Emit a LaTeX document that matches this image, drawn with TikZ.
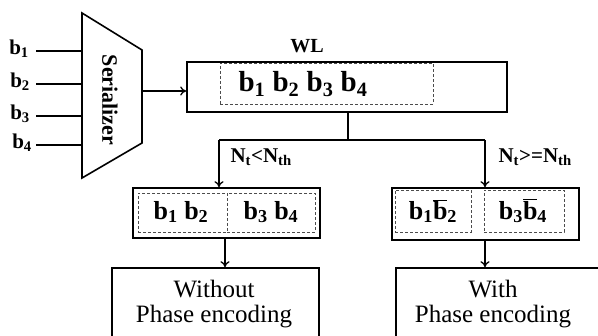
\documentclass[tikz,border=0pt]{standalone}
\usepackage{fontspec}
\setmainfont{Liberation Serif}
\usetikzlibrary{arrows.meta}
\newcommand\bb[1]{b\textsubscript{#1}}
\newcommand\bbar[1]{$\overline{\mbox{b}}$\textsubscript{#1}}
\tikzset{
  box/.style={draw, line width=1.6pt, rectangle, inner sep=0pt},
  dbox/.style={draw=black!70, dashed, dash pattern=on 3pt off 2pt, line width=0.6pt, rectangle, inner sep=0pt},
  wire/.style={line width=1.4pt},
  arr/.style={line width=1.3pt, -{To[length=6pt,width=9pt]}},
  bold/.style={font=\bfseries\fontsize{#1}{#1}\selectfont},
}
\begin{document}
\begin{tikzpicture}[x=1pt,y=-1pt]
\useasboundingbox (0,0) rectangle (598,336);
\clip (0,0) rectangle (598,336);
% serializer
\coordinate (s1) at (82,13);
\coordinate (s2) at (142,50);
\coordinate (s3) at (142,143);
\coordinate (s4) at (82,178);
\draw[line width=1.6pt, line join=miter] (s1) -- (s2) -- (s3) -- (s4) -- cycle;
\node[bold=22, rotate=-90] (ser) at (110,100) {Serializer};
% inputs
\foreach \i/\y/\x in {1/51/29,2/84/30,3/116/30,4/145/32}{
  \node[bold=21, anchor=east, inner sep=0pt] (in\i) at (\x,\y-2) {\bb{\i}};
  \coordinate (ie\i) at (82,\y);
  \coordinate (is\i) at (36,\y);
  \draw[wire] (is\i) -- (ie\i);
}
% WL box
\node[box, minimum width=320pt, minimum height=50pt] (wl) at (347,87) {};
\node[dbox, minimum width=213pt, minimum height=41pt] (wld) at (326.5,83.5) {};
\node[bold=29] (wlt) at (303,84) {\bb{1} \bb{2} \bb{3} \bb{4}};
\node[bold=20] (wllab) at (307,46) {WL};
\coordinate (serout) at (142,91);
\draw[arr] (serout) -- (wl.west |- serout);
% split
\coordinate (j) at (348,140);
\coordinate (jl) at (219,140);
\coordinate (jr) at (485,140);
\draw[wire] (wl.south -| j) -- (j);
\draw[wire] (jl) -- (jr);
% left box
\node[box, minimum width=187pt, minimum height=50pt] (lb) at (226.5,213) {};
\node[dbox, minimum width=89pt, minimum height=39pt] (lbd1) at (182.5,212.5) {};
\node[dbox, minimum width=88pt, minimum height=39pt] (lbd2) at (271,212.5) {};
\node[bold=26] (lbt1) at (181,212) {\bb{1} \bb{2}};
\node[bold=26] (lbt2) at (271,212) {\bb{3} \bb{4}};
% right box
\node[box, minimum width=187pt, minimum height=52pt] (rb) at (485.5,214) {};
\node[dbox, minimum width=76pt, minimum height=42pt] (rbd1) at (433,211) {};
\node[dbox, minimum width=80pt, minimum height=42pt] (rbd2) at (524,211) {};
\node[bold=26] (rbt1) at (433,211) {\bb{1}\bbar{2}};
\node[bold=26] (rbt2) at (523,211) {\bb{3}\bbar{4}};
% arrows to boxes
\draw[arr] (jl) -- (jl |- lb.north);
\draw[arr] (jr) -- (jr |- rb.north);
\node[bold=21, anchor=west] (c1) at (227,157) {N\textsubscript{t}<N\textsubscript{th}};
\node[bold=21, anchor=west] (c2) at (495,157) {N\textsubscript{t}>=N\textsubscript{th}};
% bottom boxes
\node[box, minimum width=207pt, minimum height=82pt] (wo) at (215.5,309) {};
\node[box, minimum width=207pt, minimum height=82pt] (wi) at (499.5,309) {};
\node[font=\fontsize{25}{25}\selectfont, align=center] (wot) at (214,304) {Without\\Phase encoding};
\node[font=\fontsize{25}{25}\selectfont, align=center] (wit) at (493,304) {With\\Phase encoding};
\draw[arr] (lb.south -| 225,0) -- (wo.north -| 225,0);
\draw[arr] (rb.south -| 485,0) -- (wi.north -| 485,0);
\end{tikzpicture}
\end{document}
